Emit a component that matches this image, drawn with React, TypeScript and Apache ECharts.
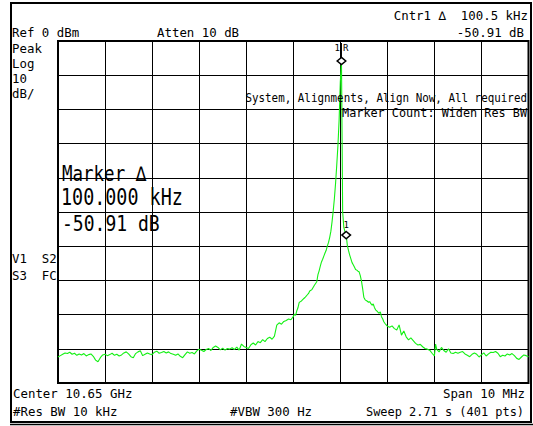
import React, { useEffect, useRef } from "react";
import * as echarts from "echarts";

// ---- Data (trace point index 0..400, amplitude in dBm) ----
const REF_LEVEL = 0; // dBm
const BOTTOM_LEVEL = -100; // dBm (10 dB/div, 10 divisions)
const POINT_COUNT = 400; // 401 pts, index 0..400

const floorLeft: [number, number][] = [
  [0, -92.4], [2, -92.0], [4, -91.6], [6, -91.2], [8, -91.4], [10, -91.0], [12, -91.6], [14, -91.3],
  [16, -91.9], [18, -91.5], [20, -91.8], [22, -91.4], [24, -92.1], [26, -91.7], [28, -91.5], [30, -92.2],
  [32, -93.3], [34, -93.8], [36, -92.6], [38, -91.8], [40, -91.6], [42, -92.0], [44, -91.7], [46, -91.3],
  [48, -91.9], [50, -91.6], [52, -92.1], [54, -91.8], [56, -91.2], [58, -90.9], [60, -91.5], [62, -92.3],
  [64, -92.6], [66, -91.4], [68, -90.9], [70, -90.6], [72, -92.0], [74, -91.6], [76, -91.2], [78, -91.5],
  [80, -91.7], [82, -91.0], [84, -90.7], [86, -91.3], [88, -91.1], [90, -90.8], [92, -91.2], [94, -90.9],
  [96, -91.4], [98, -91.6], [100, -91.9], [102, -91.5], [104, -92.2], [106, -92.6], [108, -91.7], [110, -90.9],
  [112, -91.3], [114, -91.1], [116, -91.5], [118, -90.6], [120, -90.1],
];

const skirtLeft: [number, number][] = [
  [122, -90.4], [124, -90.8], [126, -90.2], [128, -89.9], [130, -90.5], [132, -89.6], [134, -89.2], [136, -89.6],
  [138, -90.3], [140, -89.8], [142, -90.4], [144, -89.9], [146, -90.1], [148, -89.7], [150, -90.2], [152, -89.5],
  [154, -90.4], [156, -88.6], [158, -89.3], [160, -89.6], [162, -89.9], [164, -88.8], [166, -88.3], [168, -88.9],
  [170, -87.9], [172, -88.2], [174, -87.3], [176, -87.9], [178, -87.0], [180, -86.6], [182, -87.2], [184, -86.3],
  [186, -83.1], [188, -82.4], [190, -82.8], [192, -82.0], [194, -81.7], [196, -81.3], [198, -81.5], [200, -80.6],
  [201, -79.9], [202, -80.2], [203, -78.9], [204, -78.0], [205, -76.5], [206, -76.2], [207, -76.0], [208, -75.6],
  [209, -75.3], [210, -75.0], [211, -74.6], [212, -74.2], [213, -73.8], [214, -73.1], [215, -72.9], [216, -72.6],
  [217, -72.0], [218, -71.4], [219, -70.9], [220, -70.4], [221, -68.3], [222, -67.2], [223, -65.8], [224, -64.6],
  [225, -63.8], [226, -62.9], [227, -62.0], [228, -61.2], [229, -59.9], [230, -58.9], [231, -57.4], [232, -55.6],
  [233, -52.8], [234, -49.6], [235, -46.0], [236, -41.5], [237, -36.2], [238, -30.5], [239, -23.0], [240, -12.0],
];

const peak: [number, number][] = [[241, -5.85]];

const skirtRight: [number, number][] = [
  [242, -50.0], [243, -54.5], [244, -55.8], [245, -56.76], [246, -59.8], [247, -61.3], [248, -62.6], [249, -63.7],
  [250, -64.8], [251, -65.4], [252, -66.1], [253, -66.8], [254, -67.0], [255, -67.3], [256, -67.5], [257, -68.6],
  [258, -70.2], [259, -72.4], [260, -74.9], [261, -75.6], [262, -75.9], [263, -76.1], [264, -76.4], [265, -76.2],
  [266, -76.8], [267, -77.2], [268, -76.9], [269, -77.9], [270, -78.6], [271, -78.9], [272, -79.3], [273, -79.6],
  [274, -79.2], [275, -80.6], [276, -81.2], [277, -82.1], [278, -82.6], [279, -83.0], [280, -83.4], [282, -83.7],
  [284, -83.3], [286, -84.1], [288, -84.5], [290, -83.0], [292, -86.0], [294, -84.8], [296, -86.5], [298, -87.4],
  [300, -86.8], [302, -87.6], [304, -88.4], [306, -88.9], [308, -88.7], [310, -89.4], [312, -89.9], [314, -90.1],
  [316, -90.4], [318, -91.3], [320, -92.1], [321, -88.6],
];

const floorRight: [number, number][] = [
  [322, -90.2], [324, -90.9], [326, -89.6], [328, -90.5], [330, -91.0], [332, -90.0], [334, -91.2], [336, -91.4],
  [338, -91.0], [340, -91.3], [342, -91.0], [344, -90.8], [346, -91.5], [348, -91.9], [350, -92.3], [352, -91.6],
  [354, -91.2], [356, -91.6], [358, -92.4], [360, -91.8], [362, -91.2], [364, -92.1], [366, -91.5], [368, -91.0],
  [370, -91.1], [372, -90.8], [374, -91.3], [376, -92.3], [378, -91.9], [380, -92.1], [382, -91.5], [384, -91.8],
  [386, -91.4], [388, -92.0], [390, -92.8], [392, -93.1], [394, -92.4], [396, -91.8], [398, -92.0], [400, -92.3],
];

// markers: [point index, dBm, isReference(1/0)]
const markerPoints: [number, number, number][] = [
  [241, -5.85, 1],
  [245, -56.76, 0],
];

// annotation texts
const headerLeft = ["Ref 0 dBm", "Atten 10 dB"];
const headerRight = ["Cntr1 \u2206  100.5 kHz", "-50.91 dB"];
const sideLabels = ["Peak", "Log", "10", "dB/"];
const modeLabels = ["V1  S2", "S3  FC"];
const alignMsgs = ["System, Alignments, Align Now, All required", "Marker Count: Widen Res BW"];
const markerReadout = ["Marker \u2206", "100.000 kHz", "-50.91 dB"];
const footerLeft = ["Center 10.65 GHz", "#Res BW 10 kHz"];
const footerMid = "#VBW 300 Hz";
const footerRight = ["Span 10 MHz", "Sweep 2.71 s (401 pts)"];

const FONT = '"DejaVu Sans Mono", "Liberation Mono", monospace';

function txt(
  x: number,
  y: number,
  text: string,
  size: number,
  align: "left" | "right" | "center" = "left",
  sx = 1,
  sy = 1
) {
  return {
    type: "text",
    x,
    y,
    scaleX: sx,
    scaleY: sy,
    z: 100,
    silent: true,
    style: {
      text,
      font: `${size}px ${FONT}`,
      fill: "#000",
      align,
      verticalAlign: "middle",
      textAlign: align,
      textVerticalAlign: "middle",
    },
  };
}

export default function App() {
  const ref = useRef<HTMLDivElement>(null);

  useEffect(() => {
    if (!ref.current) return;
    const chart = echarts.init(ref.current, undefined, { renderer: "svg" });
    const trace = [...floorLeft, ...skirtLeft, ...peak, ...skirtRight, ...floorRight];
    const S = 12.4;

    const graphic: any[] = [
      {
        type: "rect",
        shape: { x: 11, y: 3, width: 520, height: 419 },
        style: { fill: "none", stroke: "#000", lineWidth: 2 },
        silent: true,
        z: 90,
      },
      {
        type: "line",
        shape: { x1: 10, y1: 424.5, x2: 533, y2: 424.5 },
        style: { stroke: "#000", lineWidth: 1.5 },
        silent: true,
        z: 90,
      },
      txt(12, 32.5, headerLeft[0], S),
      txt(157, 32.5, headerLeft[1], S),
      txt(528, 15, headerRight[0], S, "right"),
      txt(524, 32, headerRight[1], S, "right"),
      ...sideLabels.map((t, i) => txt(12, 48 + i * 15.3, t, S)),
      ...modeLabels.map((t, i) => txt(12, 258.5 + i * 16.5, t, S)),
      txt(527, 98, alignMsgs[0], S, "right", 0.878),
      txt(527, 113, alignMsgs[1], S, "right", 0.953),
      txt(62, 174, markerReadout[0], 17.5, "left", 1, 1.2),
      txt(61, 197.5, markerReadout[1], 18.4, "left", 1, 1.25),
      txt(62, 223, markerReadout[2], 18.4, "left", 0.98, 1.2),
      txt(13, 393, footerLeft[0], S),
      txt(13, 411.5, footerLeft[1], S),
      txt(230, 411.5, footerMid, S),
      txt(525, 393, footerRight[0], S, "right"),
      txt(524, 411.5, footerRight[1], S, "right", 0.964),
    ];

    const markerFont = `9px ${FONT}`;

    chart.setOption({
      animation: false,
      backgroundColor: "#fff",
      grid: {
        left: 58,
        top: 41,
        width: 470.5,
        height: 342,
        show: true,
        borderColor: "#000",
        borderWidth: 2,
        backgroundColor: "transparent",
      },
      xAxis: {
        type: "value",
        min: 0,
        max: POINT_COUNT,
        interval: 40,
        axisLine: { show: false },
        axisTick: { show: false },
        axisLabel: { show: false },
        splitLine: { show: true, lineStyle: { color: "#000", width: 1 } },
      },
      yAxis: {
        type: "value",
        min: BOTTOM_LEVEL,
        max: REF_LEVEL,
        interval: 10,
        axisLine: { show: false },
        axisTick: { show: false },
        axisLabel: { show: false },
        splitLine: { show: true, lineStyle: { color: "#000", width: 1 } },
      },
      series: [
        {
          type: "line",
          data: trace,
          symbol: "none",
          silent: true,
          z: 3,
          lineStyle: { color: "#14f014", width: 1.1 },
        },
        {
          type: "custom",
          silent: true,
          z: 10,
          data: markerPoints,
          renderItem: (_params: any, api: any) => {
            const p = api.coord([api.value(0), api.value(1)]);
            const isRef = api.value(2) === 1;
            const hw = 4.3;
            const hh = 3.6;
            const children: any[] = [
              {
                type: "polygon",
                shape: {
                  points: [
                    [p[0], p[1] - hh],
                    [p[0] + hw, p[1]],
                    [p[0], p[1] + hh],
                    [p[0] - hw, p[1]],
                  ],
                },
                style: { fill: "#fff", stroke: "#000", lineWidth: 1.5 },
              },
            ];
            if (isRef) {
              children.push({
                type: "line",
                shape: { x1: p[0], y1: p[1] - 18, x2: p[0], y2: p[1] - hh },
                style: { stroke: "#000", lineWidth: 1 },
              });
              children.push({
                type: "text",
                style: {
                  text: "1",
                  x: p[0] - 1.5,
                  y: p[1] - 13,
                  font: markerFont,
                  fill: "#000",
                  align: "right",
                  verticalAlign: "middle",
                  textAlign: "right",
                  textVerticalAlign: "middle",
                },
              });
              children.push({
                type: "text",
                style: {
                  text: "R",
                  x: p[0] + 1.5,
                  y: p[1] - 13,
                  font: markerFont,
                  fill: "#000",
                  align: "left",
                  verticalAlign: "middle",
                  textAlign: "left",
                  textVerticalAlign: "middle",
                },
              });
            } else {
              children.push({
                type: "text",
                style: {
                  text: "1",
                  x: p[0],
                  y: p[1] - 10,
                  font: markerFont,
                  fill: "#000",
                  align: "center",
                  verticalAlign: "middle",
                  textAlign: "center",
                  textVerticalAlign: "middle",
                },
              });
            }
            return { type: "group", children };
          },
        },
      ],
      graphic,
    });

    return () => chart.dispose();
  }, []);

  return (
    <div
      ref={ref}
      style={{ position: "absolute", left: 0, top: 0, width: 533, height: 426, background: "#fff" }}
    />
  );
}
